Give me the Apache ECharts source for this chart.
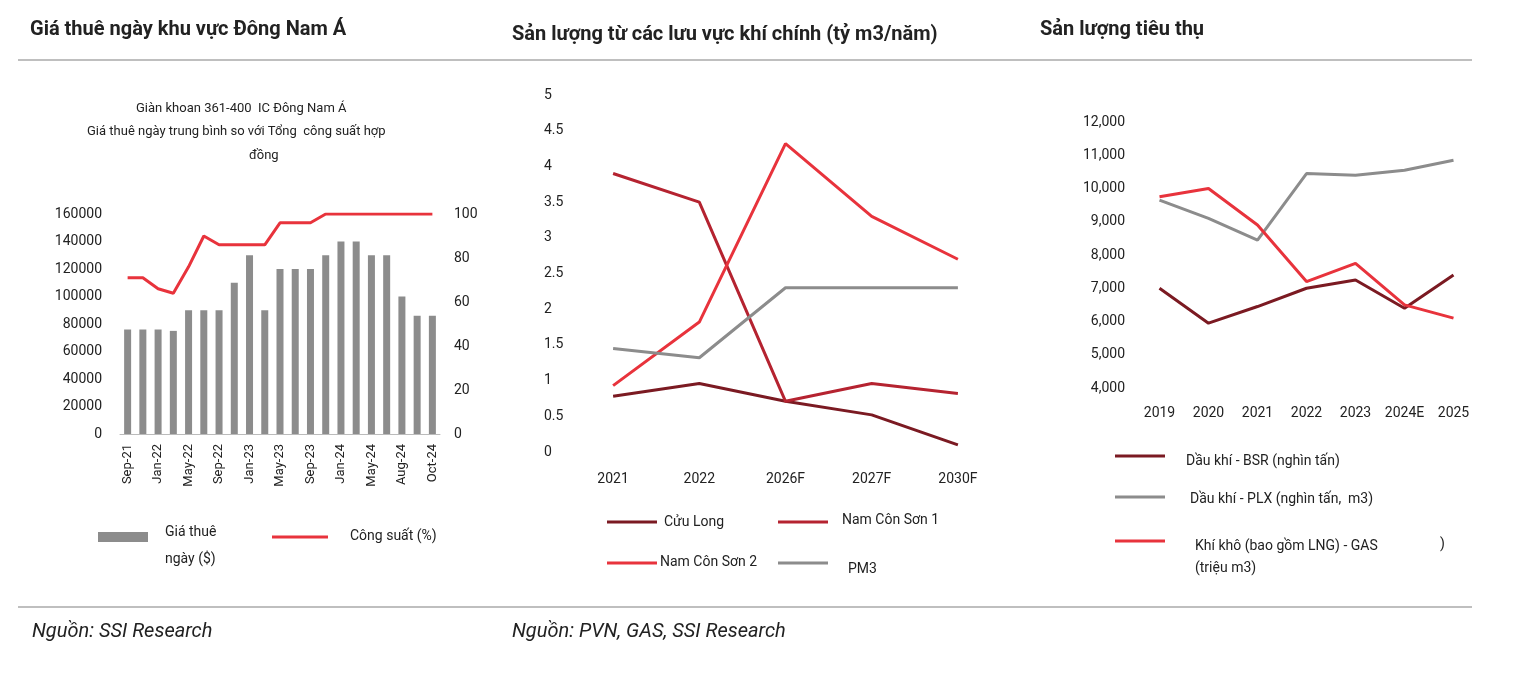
<!DOCTYPE html>
<html><head><meta charset="utf-8">
<script src="https://cdn.jsdelivr.net/npm/echarts@6/dist/echarts.min.js"></script>
<style>html,body{margin:0;background:#fff}#c{width:1524px;height:676px}</style>
</head><body><div id="c"></div>
<script>
const rigMonths=['Sep-21','Nov-21','Jan-22','Mar-22','May-22','Jul-22','Sep-22','Nov-22','Jan-23','Mar-23','May-23','Jul-23','Sep-23','Nov-23','Jan-24','Mar-24','May-24','Jul-24','Aug-24','Sep-24','Oct-24'];
const dayRate=[76000,76000,76000,75000,90000,90000,90000,110000,130000,90000,120000,120000,120000,130000,140000,140000,130000,130000,100000,86000,86000];
const utilization=[71,71,66,64,76,90,86,86,86,86,96,96,96,100,100,100,100,100,100,100,100];
const basinYears=['2021','2022','2026F','2027F','2030F'];
const cuuLong=[0.78,0.96,0.71,0.52,0.1];
const namConSon1=[3.9,3.5,0.71,0.96,0.82];
const namConSon2=[0.93,1.82,4.32,3.3,2.7];
const pm3=[1.45,1.32,2.3,2.3,2.3];
const consYears=['2019','2020','2021','2022','2023','2024E','2025'];
const bsr=[7000,5950,6450,7000,7250,6400,7400];
const plx=[9650,9100,8450,10450,10400,10550,10850];
const gas=[9750,10000,8900,7200,7750,6500,6100];

const F='"Liberation Sans Narrow","Roboto","Liberation Sans",Arial,sans-serif';
const C1='#7b1a22',C2='#b52330',C3='#e8333c',G='#8c8c8c';
const txt=(x,y,t,o)=>Object.assign({type:'text',left:x,top:y,style:Object.assign({text:t,font:'14px '+F,fill:'#222'},o||{})});
const ln=(x1,y,x2,c)=>({type:'line',shape:{x1:x1,y1:y,x2:x2,y2:y},style:{stroke:c,lineWidth:3}});
const hl=(y)=>({type:'line',shape:{x1:18,y1:y,x2:1472,y2:y},style:{stroke:'#aaa',lineWidth:1.5}});
const L={fontFamily:F,fontSize:14,color:'#222'};
const ax={axisTick:{show:false},axisLine:{show:false},splitLine:{show:false}};
const chart=echarts.init(document.getElementById('c'));
chart.setOption({
animation:false,
graphic:[
 hl(60),hl(607),
 txt(30,20,'Giá thuê ngày khu vực Đông Nam Á',{font:'bold 20px '+F}),
 txt(512,25,'Sản lượng từ các lưu vực khí chính (tỷ m3/năm)',{font:'bold 20px '+F}),
 txt(1040,20,'Sản lượng tiêu thụ',{font:'bold 20px '+F}),
 txt(32,622,'Nguồn: SSI Research',{font:'italic 20px '+F}),
 txt(512,622,'Nguồn: PVN, GAS, SSI Research',{font:'italic 20px '+F}),
 txt(136,102,'Giàn khoan 361-400  IC Đông Nam Á',{font:'13px '+F}),
 txt(87,125,'Giá thuê ngày trung bình so với Tổng  công suất hợp',{font:'13px '+F}),
 txt(249,149,'đồng',{font:'13px '+F}),
 {type:'rect',shape:{x:98,y:532,width:50,height:10},style:{fill:G}},
 txt(165,519,'Giá thuê\nngày ($)',{lineHeight:27}),
 ln(272,537,328,C3),txt(350,529,'Công suất (%)'),
 ln(607,522,657,C1),txt(664,515,'Cửu Long'),
 ln(778,522,828,C2),txt(842,513,'Nam Côn Sơn 1'),
 ln(607,563,657,C3),txt(660,555,'Nam Côn Sơn 2'),
 ln(778,563,828,G),txt(848,562,'PM3'),
 ln(1115,456,1165,C1),txt(1186,454,'Dầu khí - BSR (nghìn tấn)'),
 ln(1115,497,1165,G),txt(1190,492,'Dầu khí - PLX (nghìn tấn,  m3)'),
 ln(1115,541,1165,C3),txt(1195,535,'Khí khô (bao gồm LNG) - GAS\n(triệu m3)',{lineHeight:22}),
 txt(1440,537,')')
],
grid:[
 {left:120,top:214,width:320,height:220},
 {left:570,top:95,width:431,height:357},
 {left:1135,top:122,width:343,height:266}
],
xAxis:[
 Object.assign({},ax,{gridIndex:0,type:'category',data:rigMonths,axisLine:{show:true,lineStyle:{color:'#bbb'}},axisLabel:Object.assign({},L,{fontSize:13,rotate:90,interval:1,margin:10})}),
 Object.assign({},ax,{gridIndex:1,type:'category',data:basinYears,axisLabel:Object.assign({},L,{margin:20})}),
 Object.assign({},ax,{gridIndex:2,type:'category',data:consYears,axisLabel:Object.assign({},L,{margin:18,interval:0})})
],
yAxis:[
 Object.assign({},ax,{gridIndex:0,type:'value',min:0,max:160000,interval:20000,axisLabel:Object.assign({},L,{margin:18,formatter:v=>String(v)})}),
 Object.assign({},ax,{gridIndex:0,type:'value',min:0,max:100,interval:20,position:'right',axisLabel:Object.assign({},L,{margin:14})}),
 Object.assign({},ax,{gridIndex:1,type:'value',min:0,max:5,interval:0.5,axisLabel:Object.assign({},L,{margin:26,align:'left'})}),
 Object.assign({},ax,{gridIndex:2,type:'value',min:4000,max:12000,interval:1000,axisLabel:Object.assign({},L,{margin:10,formatter:v=>v.toLocaleString('en-US')})})
],
series:[
 {type:'bar',xAxisIndex:0,yAxisIndex:0,data:dayRate,barWidth:7,itemStyle:{color:G}},
 {type:'line',xAxisIndex:0,yAxisIndex:1,data:utilization,symbol:'none',lineStyle:{color:C3,width:3}},
 {type:'line',xAxisIndex:1,yAxisIndex:2,data:cuuLong,symbol:'none',lineStyle:{color:C1,width:3}},
 {type:'line',xAxisIndex:1,yAxisIndex:2,data:namConSon1,symbol:'none',lineStyle:{color:C2,width:3}},
 {type:'line',xAxisIndex:1,yAxisIndex:2,data:namConSon2,symbol:'none',lineStyle:{color:C3,width:3}},
 {type:'line',xAxisIndex:1,yAxisIndex:2,data:pm3,symbol:'none',lineStyle:{color:G,width:3}},
 {type:'line',xAxisIndex:2,yAxisIndex:3,data:bsr,symbol:'none',lineStyle:{color:C1,width:3}},
 {type:'line',xAxisIndex:2,yAxisIndex:3,data:plx,symbol:'none',lineStyle:{color:G,width:3}},
 {type:'line',xAxisIndex:2,yAxisIndex:3,data:gas,symbol:'none',lineStyle:{color:C3,width:3}}
]});
</script></body></html>
